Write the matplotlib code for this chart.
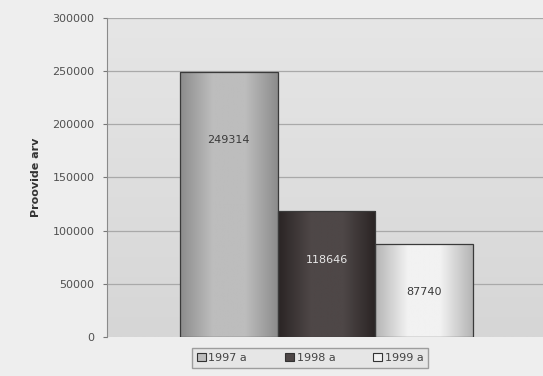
import numpy as np
import matplotlib
matplotlib.use("Agg")
import matplotlib.pyplot as plt
from matplotlib.colors import LinearSegmentedColormap

years = ["1997 a", "1998 a", "1999 a"]
counts = [249314, 118646, 87740]
label_y = [185000, 72000, 42000]
yticks = [0, 50000, 100000, 150000, 200000, 250000, 300000]

# edge / highlight shades for each bar's horizontal gradient
shades = [("#8c8c8c", "#bdbdbd"), ("#2a2424", "#4e4747"), ("#b4b4b4", "#f2f2f2")]
label_colors = ["#3a3a3a", "#e8e8e8", "#3a3a3a"]

fig = plt.figure(figsize=(5.43, 3.76), dpi=100)
fig.patch.set_facecolor("#eeeeee")
ax = fig.add_axes([0.197, 0.104, 0.803, 0.848])

xlim = (-1.247, 3.216)
ax.set_xlim(*xlim)
ax.set_ylim(0, 300000)

# soft grey gradient in the plotting area
bg = np.linspace(0, 1, 256).reshape(-1, 1)
bg_cmap = LinearSegmentedColormap.from_list("bg", ["#d6d6d6", "#e6e6e6"])
ax.imshow(bg, cmap=bg_cmap, aspect="auto", extent=(xlim[0], xlim[1], 0, 300000),
          origin="lower", zorder=0)

for y in yticks[1:]:
    ax.axhline(y, color="#a9a9a9", lw=0.9, zorder=1)

bars = ax.bar(range(3), counts, width=1.0, color="none", edgecolor="#3a3a3a",
              lw=0.9, zorder=3)
handles = []
for i, (b, (dark, light)) in enumerate(zip(bars, shades)):
    cm = LinearSegmentedColormap.from_list(f"b{i}", [dark, light, light, dark])
    grad = np.linspace(0, 1, 256).reshape(1, -1)
    im = ax.imshow(grad, cmap=cm, aspect="auto",
                   extent=(i - 0.5, i + 0.5, 0, counts[i]), zorder=2)
    im.set_clip_path(b)
    ax.text(i, label_y[i], str(counts[i]), ha="center", va="center",
            fontsize=8, color=label_colors[i], zorder=4)
    handles.append(plt.Rectangle((0, 0), 1, 1, facecolor=light, edgecolor="#333333", lw=0.8))

ax.set_xticks([])
ax.set_yticks(yticks)
ax.set_yticklabels([str(v) for v in yticks], fontsize=8, color="#505050")
ax.tick_params(axis="y", length=3, color="#777777", pad=6)
for side in ["top", "right", "bottom"]:
    ax.spines[side].set_visible(False)
ax.spines["left"].set_color("#8a8a8a")
ax.set_ylabel("Proovide arv", fontsize=8, fontweight="bold", color="#333333", labelpad=8)

fig.legend(handles, years, loc="center", bbox_to_anchor=(0.571, 0.048), ncol=3,
           fontsize=8, frameon=True, fancybox=False, edgecolor="#8a8a8a",
           facecolor="#e4e4e4", handlelength=0.8, handleheight=0.8,
           handletextpad=0.25, columnspacing=3.4, borderpad=0.45,
           borderaxespad=0, labelcolor="#444444")

fig.savefig("out.png", dpi=100, facecolor=fig.get_facecolor())
